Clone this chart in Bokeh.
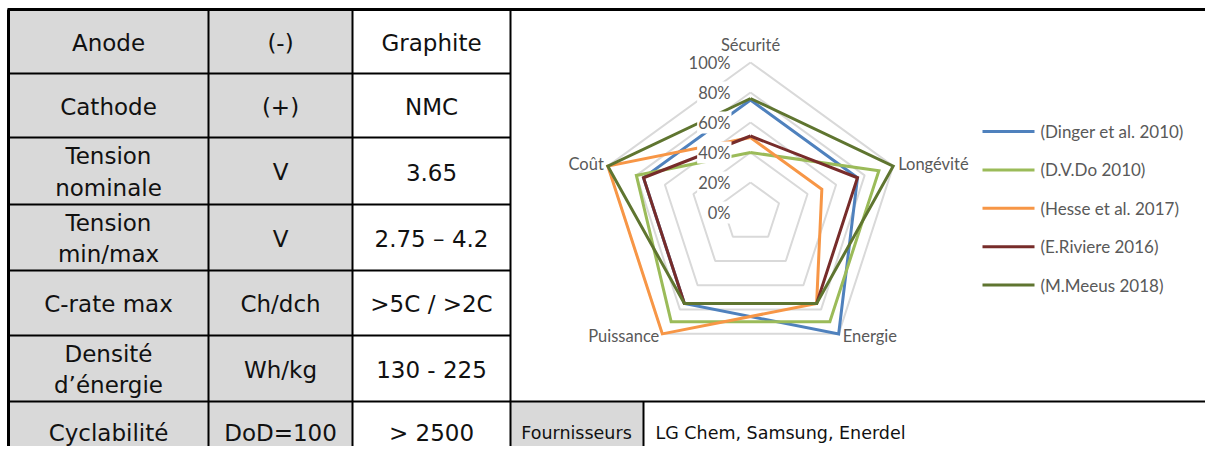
import math
from bokeh.plotting import figure
from bokeh.models import Range1d
from bokeh.core.properties import value
from bokeh.embed import file_html
from bokeh.resources import INLINE

# ---------------- data ----------------
row_labels = ["Anode", "Cathode", "Tension\nnominale", "Tension\nmin/max",
              "C-rate max", "Densité\nd’énergie", "Cyclabilité"]
row_units = ["(-)", "(+)", "V", "V", "Ch/dch", "Wh/kg", "DoD=100"]
row_values = ["Graphite", "NMC", "3.65", "2.75 – 4.2", ">5C / >2C", "130 - 225", "> 2500"]
supplier_label = "Fournisseurs"
supplier_value = "LG Chem, Samsung, Enerdel"

radar_axes = ["Sécurité", "Longévité", "Energie", "Puissance", "Coût"]
radial_ticks = [0.0, 0.2, 0.4, 0.6, 0.8, 1.0]
radial_tick_labels = ["0%", "20%", "40%", "60%", "80%", "100%"]

series_names = ["(Dinger et al. 2010)", "(D.V.Do 2010)", "(Hesse et al. 2017)",
                "(E.Riviere 2016)", "(M.Meeus 2018)"]
dinger = [0.75, 0.75, 1.00, 0.75, 0.75]
dvdo = [0.40, 0.90, 0.90, 0.90, 0.80]
hesse = [0.50, 0.50, 0.75, 1.00, 1.00]
riviere = [0.51, 0.75, 0.75, 0.75, 0.75]
meeus = [0.76, 1.00, 0.75, 0.75, 1.00]
series_values = [dinger, dvdo, hesse, riviere, meeus]
series_colors = ["#4F81BD", "#9BBB59", "#F79646", "#772C2A", "#5F7530"]

# ---------------- figure ----------------
W, H = 1205, 446
p = figure(width=W, height=H, x_range=Range1d(0, W), y_range=Range1d(H, 0),
           output_backend="svg", toolbar_location=None, min_border=0,
           x_axis_type=None, y_axis_type=None)
p.grid.visible = False
p.outline_line_color = None
p.background_fill_color = "white"
p.border_fill_color = "white"

# ---------------- table ----------------
col_x = [8, 208, 352, 510]
row_y = [9, 73, 137, 204, 270, 335, 401, 470]
grey = "#D9D9D9"
n = len(row_labels)
p.quad(left=[col_x[0]] * n, right=[col_x[2]] * n, top=row_y[:-1], bottom=row_y[1:],
       fill_color=grey, line_color=None)
p.quad(left=[510], right=[643], top=[401], bottom=[470], fill_color=grey, line_color=None)

tfont = value("DejaVu Sans")
tsize = "23px"
cy_rows = [(row_y[i] + row_y[i + 1]) / 2 + 1 for i in range(n)]
cy_rows[-1] = 432
for texts, cx in [(row_labels, 108), (row_units, 280), (row_values, 431)]:
    p.text(x=[cx] * n, y=cy_rows, text=texts, text_align="center", text_baseline="middle",
           text_font=tfont, text_font_size=tsize, text_color="#111111", text_line_height=1.22)
p.text(x=[576], y=[432], text=[supplier_label], text_align="center", text_baseline="middle",
       text_font=tfont, text_font_size="17.5px", text_color="#111111")
p.text(x=[655], y=[432], text=[supplier_value], text_align="left", text_baseline="middle",
       text_font=tfont, text_font_size="17.5px", text_color="#111111")

# borders
hx0, hx1, hy = [], [], []
for y in row_y[1:-1]:
    hx0.append(8); hx1.append(510); hy.append(y)
p.segment(x0=hx0, y0=hy, x1=hx1, y1=hy, line_color="black", line_width=2)
p.segment(x0=[510], y0=[401], x1=[W], y1=[401], line_color="black", line_width=2)
p.segment(x0=[7], y0=[9], x1=[W], y1=[9], line_color="black", line_width=3)
p.segment(x0=[208, 352, 510, 643], y0=[9, 9, 9, 401], x1=[208, 352, 510, 643],
          y1=[470, 470, 470, 470], line_color="black", line_width=2)
p.segment(x0=[8], y0=[9], x1=[8], y1=[470], line_color="black", line_width=3)

# ---------------- radar ----------------
cx, cy, R = 750, 212, 150
angles = [math.radians(a) for a in [90, 18, -54, -126, 162]]


def poly(vals):
    xs = [cx + R * v * math.cos(a) for v, a in zip(vals, angles)]
    ys = [cy - R * v * math.sin(a) for v, a in zip(vals, angles)]
    return xs + xs[:1], ys + ys[:1]


for t in radial_ticks[1:]:
    xs, ys = poly([t] * 5)
    p.line(xs, ys, line_color="#D9D9D9", line_width=2)

for vals, col in zip(series_values, series_colors):
    xs, ys = poly(vals)
    p.line(xs, ys, line_color=col, line_width=3, line_join="miter")

rfont = value("Lato")
rcol = "#595959"
p.text(x=[731] * len(radial_ticks), y=[cy - R * t for t in radial_ticks], text=radial_tick_labels,
       text_align="right", text_baseline="middle", text_font=rfont, text_font_size="16.5px",
       text_color=rcol, background_fill_color="white", padding=1)

vx = [cx + R * math.cos(a) for a in angles]
vy = [cy - R * math.sin(a) for a in angles]
offs = [(0, -18, "center"), (5, -2, "left"), (4, 2, "left"), (-3, 2, "right"), (-4, -2, "right")]
for i, lab in enumerate(radar_axes):
    dx, dy, al = offs[i]
    p.text(x=[vx[i] + dx], y=[vy[i] + dy], text=[lab], text_align=al, text_baseline="middle",
           text_font=rfont, text_font_size="16.5px", text_color=rcol)

# legend
for i, (name, col) in enumerate(zip(series_names, series_colors)):
    ly = 131 + i * 38.4
    p.line([982, 1034], [ly, ly], line_color=col, line_width=3)
    p.text(x=[1040], y=[ly], text=[name], text_align="left", text_baseline="middle",
           text_font=rfont, text_font_size="17px", text_color=rcol)

open("out.html", "w").write(file_html(p, INLINE))
